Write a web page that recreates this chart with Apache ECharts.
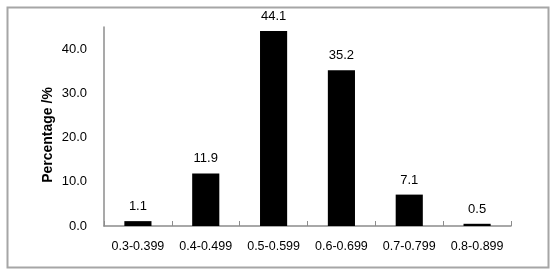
<!DOCTYPE html>
<html>
<head>
<meta charset="utf-8">
<script src="https://cdn.jsdelivr.net/npm/echarts@6/dist/echarts.min.js"></script>
<style>html,body{margin:0;padding:0;background:#fff}#c{width:550px;height:270px}</style>
</head>
<body>
<div id="c"></div>
<script>
var categories = ['0.3-0.399', '0.4-0.499', '0.5-0.599', '0.6-0.699', '0.7-0.799', '0.8-0.899'];
var percentages = [1.1, 11.9, 44.1, 35.2, 7.1, 0.5];
var yTicks = [0, 10, 20, 30, 40];
var yTitle = 'Percentage /%';

var chart = echarts.init(document.getElementById('c'), null, {renderer: 'canvas'});
var font = 'Liberation Sans, Arial, sans-serif';
chart.setOption({
  animation: false,
  backgroundColor: '#fff',
  graphic: [{
    type: 'rect', left: 5, top: 5, shape: {width: 541, height: 260},
    style: {fill: 'none', stroke: '#a6a6a6', lineWidth: 2}
  }, {
    type: 'text', x: 48, y: 135, rotation: Math.PI / 2,
    style: {text: yTitle, fill: '#000', font: 'bold 14px ' + font, align: 'center', verticalAlign: 'middle'}
  }],
  grid: {left: 104, right: 39, top: 27, bottom: 44},
  xAxis: {
    type: 'category',
    data: categories,
    axisLine: {lineStyle: {color: '#8c8c8c', width: 1.5}},
    axisTick: {show: true, inside: true, length: 5, lineStyle: {color: '#8c8c8c'}},
    axisLabel: {color: '#000', fontFamily: font, fontSize: 12.5, margin: 14, interval: 0, hideOverlap: false}
  },
  yAxis: {
    type: 'value',
    min: 0, max: 45, interval: 10,
    axisLine: {show: true, lineStyle: {color: '#8c8c8c', width: 1.5}},
    axisTick: {show: false},
    splitLine: {show: false},
    axisLabel: {
      color: '#000', fontFamily: font, fontSize: 13, margin: 17,
      showMaxLabel: false,
      formatter: function (v) { return yTicks.indexOf(v) >= 0 ? v.toFixed(1) : ''; }
    }
  },
  series: [{
    type: 'bar',
    data: percentages,
    barWidth: '40%',
    itemStyle: {color: '#000'},
    label: {
      show: true, position: 'top', distance: 8,
      color: '#000', fontFamily: font, fontSize: 13,
      formatter: function (p) { return p.value.toFixed(1); }
    }
  }]
});
</script>
</body>
</html>
